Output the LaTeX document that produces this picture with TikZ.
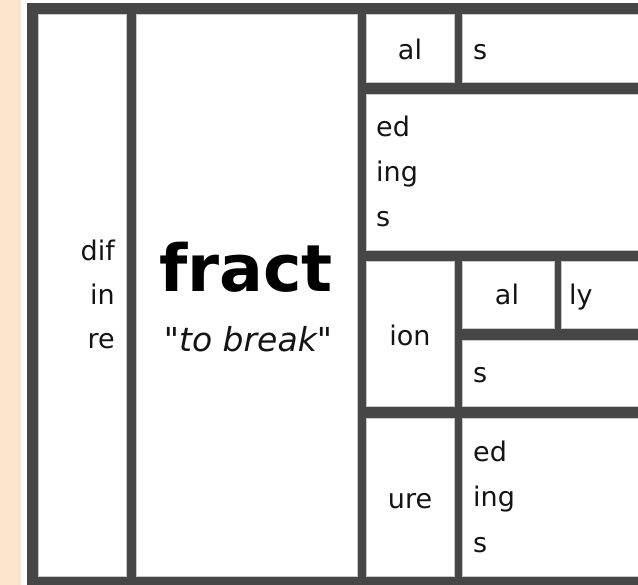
\documentclass[tikz,border=0pt]{standalone}
\usepackage{fontspec}
\setmainfont{DejaVu Sans}
% family without TeX ligature mapping, so that " stays a straight quote
\newfontfamily\glossfont{DejaVu Sans}
\definecolor{peach}{RGB}{253,229,205}
\definecolor{frame}{RGB}{70,70,70}
\definecolor{cellrim}{RGB}{200,200,200}
\definecolor{ink}{RGB}{20,20,20}
\begin{document}
\begin{tikzpicture}[x=1pt,y=-1pt,
  cell/.style={fill=white, draw=cellrim, line width=0.7pt, anchor=north west,
               inner sep=0pt, outer sep=0pt},
  morph/.style={font=\fontsize{27}{27}\selectfont, text=ink, inner sep=0pt},
  rootword/.style={font=\fontsize{65}{65}\selectfont\bfseries, text=black, inner sep=0pt},
  gloss/.style={font=\glossfont\fontsize{33}{33}\selectfont\itshape, text=ink, inner sep=0pt},
]
\useasboundingbox (0,0) rectangle (638,585);
\clip (0,0) rectangle (638,585);

% side strip and table frame
\fill[peach] (0,0) rectangle (21,585);
\fill[frame] (27,3) rectangle (660,600);

% table cells: corners given as (left,top) with width and height
\node[cell, minimum width=88pt,  minimum height=562pt] (prefix) at (38,14)  {};
\node[cell, minimum width=221pt, minimum height=562pt] (root)   at (136,14) {};
\node[cell, minimum width=88pt,  minimum height=68pt]  (alA)    at (366,14) {};
\node[cell, minimum width=200pt, minimum height=68pt]  (sA)     at (462,14) {};
\node[cell, minimum width=300pt, minimum height=156pt] (endB)   at (366,94) {};
\node[cell, minimum width=88pt,  minimum height=145pt] (ion)    at (366,261) {};
\node[cell, minimum width=92pt,  minimum height=67pt]  (alC)    at (462,261) {};
\node[cell, minimum width=100pt, minimum height=67pt]  (lyC)    at (561,261) {};
\node[cell, minimum width=200pt, minimum height=66pt]  (sC)     at (462,340) {};
\node[cell, minimum width=88pt,  minimum height=158pt] (ure)    at (366,418) {};
\node[cell, minimum width=200pt, minimum height=158pt] (endD)   at (462,418) {};

% prefixes
\node[morph, anchor=base east] (tdif) at (115,261) {dif};
\node[morph, anchor=base east] (tin)  at (115,305) {in};
\node[morph, anchor=base east] (tre)  at (115,349) {re};

% root and meaning
\node[rootword, anchor=base] (tfract) at (246,292) {fract};
\node[gloss, anchor=base]    (tbreak) at (248,352) {"to break"};

% suffix tree
\node[morph, anchor=base] (tal1) at (410,60) {al};
\node[morph, anchor=base west] (ts1) at (473,60) {s};

\node[morph, anchor=base west] (ted2)  at (376,137) {ed};
\node[morph, anchor=base west] (ting2) at (376,182) {ing};
\node[morph, anchor=base west] (ts2)   at (376,227) {s};

\node[morph, anchor=base] (tion) at (410,346) {ion};
\node[morph, anchor=base] (tal3) at (507,305) {al};
\node[morph, anchor=base west] (tly3) at (569,305) {ly};
\node[morph, anchor=base west] (ts3)  at (473,383) {s};

\node[morph, anchor=base] (ture) at (410,508) {ure};
\node[morph, anchor=base west] (ted4)  at (473,462) {ed};
\node[morph, anchor=base west] (ting4) at (473,507) {ing};
\node[morph, anchor=base west] (ts4)   at (473,552) {s};
\end{tikzpicture}
\end{document}
